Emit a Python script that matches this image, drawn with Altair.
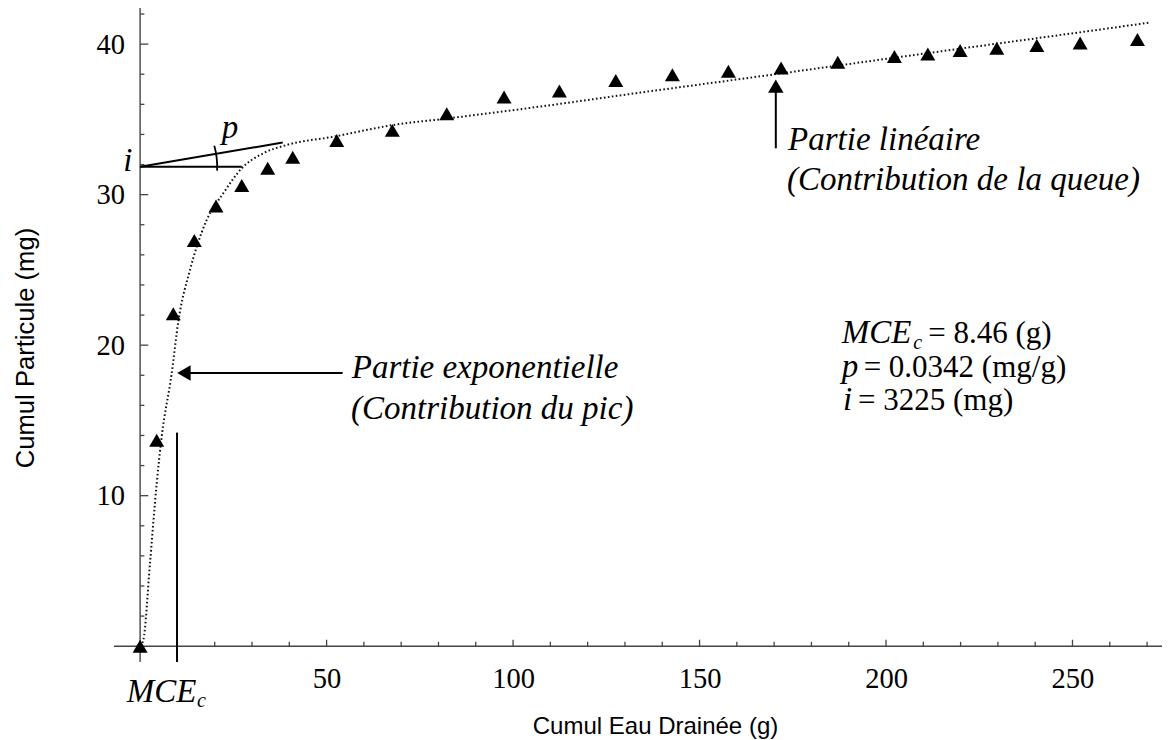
import altair as alt
import pandas as pd

# ---------------- data ----------------
eau = [0, 4.45, 8.9, 14.53, 20.35, 27.25, 34.22, 40.92, 52.72, 67.63, 82.22,
       97.59, 112.42, 127.54, 142.72, 157.74, 171.87, 187.07, 202.25, 211.21,
       219.87, 229.71, 240.44, 252.05, 267.42]
particule = [0, 13.69, 22.08, 26.95, 29.24, 30.61, 31.76, 32.49, 33.6, 34.27, 35.37,
             36.48, 36.88, 37.59, 37.96, 38.2, 38.42, 38.8, 39.18, 39.35,
             39.58, 39.73, 39.91, 40.07, 40.31]

# fitted model curve (dotted)
curve_x = [0, 0.86, 2.65, 4.45, 5.79, 8.47, 10.24, 13.38, 15.18, 17.86, 22.31, 27.25,
           33.04, 39.31, 51.81, 67.9, 83.1, 107.2, 134.1, 160.9, 177.0, 203.8,
           230.6, 257.4, 270.4]
curve_y = [0, 0.41, 5.51, 10.82, 13.92, 18.13, 21.56, 25.0, 26.54, 28.32, 30.09, 31.75,
           32.75, 33.3, 33.85, 34.63, 35.08, 35.85, 36.78, 37.68, 38.23, 39.15,
           40.06, 40.97, 41.42]

x_major = [50, 100, 150, 200, 250]
x_minor = [10, 20, 30, 40, 60, 70, 80, 90, 110, 120, 130, 140, 160, 170, 180, 190,
           210, 220, 230, 240, 260, 270]
y_major = [10, 20, 30, 40]
y_minor = [2, 4, 6, 8, 12, 14, 16, 18, 22, 24, 26, 28, 32, 34, 36, 38, 42]

X_DOMAIN = [-7, 274]
Y_DOMAIN = [-1.05, 42.4]
W, H = 1048, 654

xsc = alt.Scale(domain=X_DOMAIN, nice=False, zero=False)
ysc = alt.Scale(domain=Y_DOMAIN, nice=False, zero=False)

y0_off = -(H * (0 - Y_DOMAIN[0]) / (Y_DOMAIN[1] - Y_DOMAIN[0]))
x0_off = -(W * (0 - X_DOMAIN[0]) / (X_DOMAIN[1] - X_DOMAIN[0]))

SERIF = "Liberation Serif"
SANS = "Liberation Sans"

x_axis = alt.Axis(values=x_major, domain=False, ticks=False, tickSize=0, grid=False,
                  labelFont=SERIF, labelFontSize=28.5, labelPadding=18,
                  labelColor="black", labelFlush=False, offset=y0_off,
                  title="Cumul Eau Drainée (g)", titleFont=SANS,
                  titleFontSize=24, titleFontWeight="normal", titleColor="black",
                  titleX=541, titleY=87.8, titleAlign="center", titleBaseline="alphabetic")
y_axis = alt.Axis(values=y_major, domain=False, ticks=False, tickSize=0, grid=False,
                  labelFont=SERIF, labelFontSize=28.5, labelPadding=15.5,
                  labelColor="black", offset=x0_off,
                  title="Cumul Particule (mg)", titleFont=SANS,
                  titleFontSize=25.6, titleFontWeight="normal", titleColor="black",
                  titleAngle=270, titleX=-106.8, titleY=339.5, titleAlign="center",
                  titleBaseline="alphabetic")


def X(f):
    return alt.X(f, type="quantitative", scale=xsc, axis=x_axis)


def Y(f):
    return alt.Y(f, type="quantitative", scale=ysc, axis=y_axis)


AX = "#444444"

# axis lines crossing at the origin
xline = pd.DataFrame({"x": [X_DOMAIN[0]], "x2": [X_DOMAIN[1]], "y": [0]})
yline = pd.DataFrame({"x": [0], "y": [Y_DOMAIN[0]], "y2": [Y_DOMAIN[1]]})
axis_x = alt.Chart(xline).mark_rule(color=AX, strokeWidth=1.4).encode(
    x=X("x"), x2="x2", y=Y("y"))
axis_y = alt.Chart(yline).mark_rule(color=AX, strokeWidth=1.4).encode(
    x=X("x"), y=Y("y"), y2="y2")

# inward tick marks
xt = pd.DataFrame({"x": x_major + x_minor,
                   "len": [0.43] * len(x_major) + [0.29] * len(x_minor)})
xt["y"] = 0
yt = pd.DataFrame({"y": y_major + y_minor,
                   "len": [2.2] * len(y_major) + [1.15] * len(y_minor)})
yt["x"] = 0
ticks_x = alt.Chart(xt).mark_rule(color=AX, strokeWidth=1.3).encode(
    x=X("x"), y=Y("y"), y2="len")
ticks_y = alt.Chart(yt).mark_rule(color=AX, strokeWidth=1.3).encode(
    y=Y("y"), x=X("x"), x2="len")

# dotted model curve
curve = alt.Chart(pd.DataFrame({"x": curve_x, "y": curve_y})).mark_line(
    color="#111111", strokeWidth=2, strokeDash=[1.6, 2.4], interpolate="monotone"
).encode(x=X("x"), y=Y("y"), order=alt.Order("x:Q"))

# measured points
pts = alt.Chart(pd.DataFrame({"x": eau, "y": particule})).mark_point(
    shape="triangle-up", filled=True, color="black", opacity=1, size=225
).encode(x=X("x"), y=Y("y"))

# annotation lines (MCEc marker, tangent lines, arrows)
seg = pd.DataFrame({
    "x":  [9.9, 0, 0, 11.75, 170.45],
    "y":  [-1.05, 31.86, 31.86, 18.15, 33.08],
    "x2": [9.9, 27.25, 38.24, 54.3, 170.45],
    "y2": [14.19, 31.86, 33.46, 18.15, 37.21],
})
segs = alt.Chart(seg).mark_rule(color="black", strokeWidth=2).encode(
    x=X("x"), y=Y("y"), x2="x2", y2="y2")

head_left = alt.Chart(pd.DataFrame({"x": [11.75], "y": [18.15]})).mark_point(
    shape="triangle-left", filled=True, color="black", opacity=1, size=240
).encode(x=X("x"), y=Y("y"))
head_up = alt.Chart(pd.DataFrame({"x": [170.45], "y": [37.21]})).mark_point(
    shape="triangle-up", filled=True, color="black", opacity=1, size=240
).encode(x=X("x"), y=Y("y"))

angle_arc = alt.Chart(pd.DataFrame({"x": [0], "y": [31.86]})).mark_arc(
    radius=78, radius2=76.2, theta=1.295, theta2=1.622, color="black"
).encode(x=X("x"), y=Y("y"))

# texts
ital = pd.DataFrame({
    "x": [21.88, -4.5, 56.74, 56.56, 173.74, 173.47, -3.59, 188.15, 188.15, 188.5],
    "y": [33.77, 31.59, 17.8, 15.1, 32.97, 30.31, -3.69, 20.13, 17.89, 15.69],
    "t": ["p", "i", "Partie exponentielle", "(Contribution du pic)",
          "Partie linéaire", "(Contribution de la queue)", "MCE", "MCE", "p", "i"],
})
subs = pd.DataFrame({"x": [15.26, 207.3], "y": [-4.04, 19.75], "t": ["c", "c"]})
roman = pd.DataFrame({
    "x": [211.3, 194.0, 192.5],
    "y": [20.13, 17.89, 15.69],
    "t": ["= 8.46 (g)", "= 0.0342 (mg/g)", "= 3225 (mg)"],
})
t_ital = alt.Chart(ital).mark_text(
    align="left", baseline="alphabetic", font=SERIF, fontStyle="italic",
    fontSize=33, color="black").encode(x=X("x"), y=Y("y"), text="t:N")
t_sub = alt.Chart(subs).mark_text(
    align="left", baseline="alphabetic", font=SERIF, fontStyle="italic",
    fontSize=20, color="black").encode(x=X("x"), y=Y("y"), text="t:N")
t_rom = alt.Chart(roman).mark_text(
    align="left", baseline="alphabetic", font=SERIF,
    fontSize=31, color="black").encode(x=X("x"), y=Y("y"), text="t:N")

chart = alt.layer(
    axis_x, axis_y, ticks_x, ticks_y, curve, segs, angle_arc, head_left, head_up,
    pts, t_ital, t_sub, t_rom
).properties(
    width=W, height=H,
    autosize=alt.AutoSizeParams(type="none"),
    padding={"left": 106, "top": 0, "right": 1, "bottom": 78},
    background="white",
).configure_view(strokeWidth=0)

chart.save("out.html", embed_options={"renderer": "svg", "actions": False})
